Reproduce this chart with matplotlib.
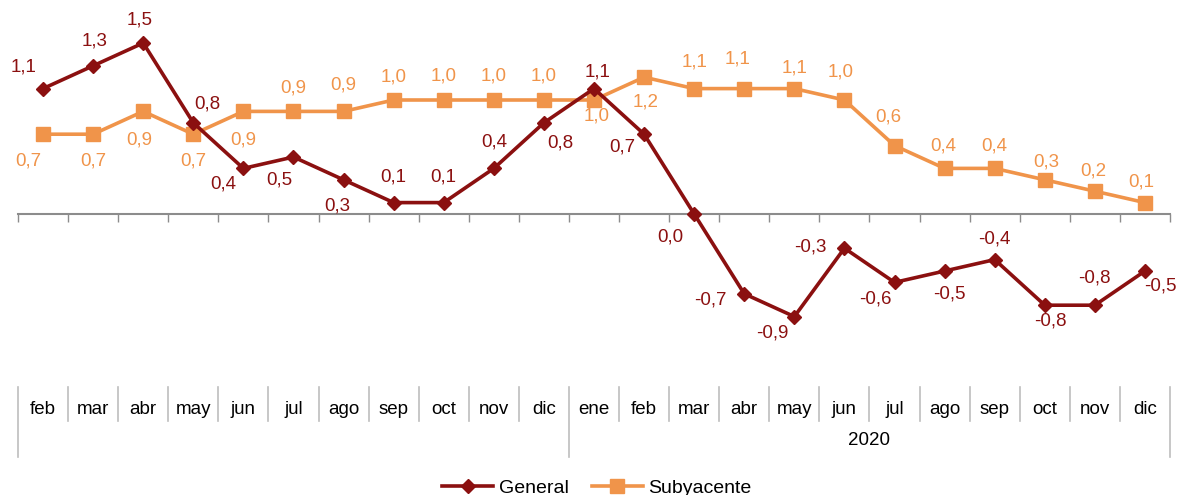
import matplotlib
matplotlib.use("Agg")
import matplotlib.pyplot as plt

plt.rcParams["font.family"] = ["Liberation Sans", "DejaVu Sans"]

# Datos
meses = ["feb", "mar", "abr", "may", "jun", "jul", "ago", "sep", "oct", "nov", "dic",
         "ene", "feb", "mar", "abr", "may", "jun", "jul", "ago", "sep", "oct", "nov", "dic"]
general = [1.1, 1.3, 1.5, 0.8, 0.4, 0.5, 0.3, 0.1, 0.1, 0.4, 0.8,
           1.1, 0.7, 0.0, -0.7, -0.9, -0.3, -0.6, -0.5, -0.4, -0.8, -0.8, -0.5]
subyacente = [0.7, 0.7, 0.9, 0.7, 0.9, 0.9, 0.9, 1.0, 1.0, 1.0, 1.0,
              1.0, 1.2, 1.1, 1.1, 1.1, 1.0, 0.6, 0.4, 0.4, 0.3, 0.2, 0.1]
anio = "2020"
inicio_anio = 11  # indice de "ene"

# desplazamiento de etiquetas (pixeles)
off_gen = [(-19, 22), (1, 25), (-4, 23), (14, 19), (-20, -16), (-14, -23), (-6, -26),
           (0, 26), (0, 26), (0, 26), (16, -20), (4, 17), (-22, -13), (-24, -23),
           (-34, -6), (-22, -16), (-34, 1), (-19, -17), (5, -23), (0, 21), (6, -16),
           (0, 27), (15, -15)]
off_sub = [(-15, -27), (0, -27), (-4, -29), (0, -27), (0, -29), (0, 23), (0, 26),
           (0, 23), (0, 24), (0, 24), (0, 24), (3, -16), (2, -25), (0, 27), (-7, 30),
           (0, 21), (-4, 28), (-6, 29), (-1, 22), (0, 22), (1, 18), (-2, 20), (-4, 21)]

c_gen = "#8B1010"
c_sub = "#F0944A"

W, H = 1181, 495
fig = plt.figure(figsize=(W / 100, H / 100), dpi=100)
ax = fig.add_axes([18 / W, 1 - 375 / H, 1152 / W, 375 / H])
x = list(range(len(meses)))

ax.plot(x, general, color=c_gen, lw=2.6, marker="D", ms=7, label="General", zorder=3)
ax.plot(x, subyacente, color=c_sub, lw=2.6, marker="s", ms=9.5, label="Subyacente", zorder=2)

fmt = lambda v: f"{v:.1f}".replace(".", ",")
for i in x:
    ax.annotate(fmt(general[i]), (i, general[i]), xytext=off_gen[i], textcoords="offset pixels",
                ha="center", va="center", fontsize=13.5, color=c_gen)
    ax.annotate(fmt(subyacente[i]), (i, subyacente[i]), xytext=off_sub[i], textcoords="offset pixels",
                ha="center", va="center", fontsize=13.5, color=c_sub)

ax.set_xlim(-0.5, len(meses) - 0.5)
ax.set_ylim(-(375 - 214) / 114, 214 / 114)
for s in ["top", "right", "left"]:
    ax.spines[s].set_visible(False)
ax.spines["bottom"].set_position(("data", 0))
ax.spines["bottom"].set_color("#8C8C8C")
ax.spines["bottom"].set_linewidth(1.5)
ax.set_xticks([i - 0.5 for i in range(len(meses) + 1)])
ax.set_xticklabels([])
ax.set_yticks([])
ax.tick_params(axis="x", direction="out", length=6, width=1, color="#8C8C8C")

# tabla de categorias
tax = fig.add_axes([18 / W, 1 - 460 / H, 1152 / W, 75 / H])
tax.set_xlim(-0.5, len(meses) - 0.5)
tax.set_ylim(460, 385)
tax.axis("off")
for k in range(len(meses) + 1):
    largo = k in (0, inicio_anio, len(meses))
    tax.plot([k - 0.5, k - 0.5], [387, 457 if largo else 421], color="#BDBDBD", lw=1.2,
             clip_on=False)
for i, m in enumerate(meses):
    tax.text(i, 410, m, ha="center", va="center", fontsize=13.5, color="black")
tax.text((inicio_anio - 0.5 + len(meses) - 0.5) / 2, 441, anio, ha="center", va="center",
         fontsize=13.5, color="black")

fig.legend(loc="center", bbox_to_anchor=(597 / W, 1 - 488 / H), ncol=2, frameon=False,
           fontsize=14, handlelength=2.6, handletextpad=0.3, columnspacing=1.2)

fig.savefig("out.png", dpi=100)
